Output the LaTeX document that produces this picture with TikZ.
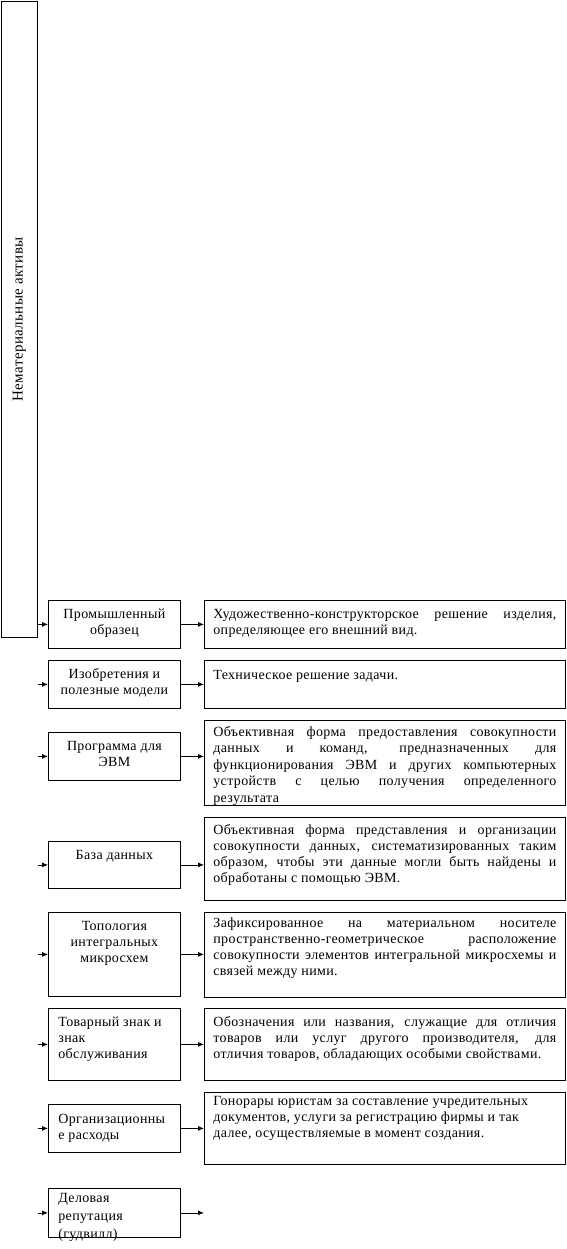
\documentclass[tikz,border=0pt]{standalone}
\usepackage{fontspec}
\setmainfont{Liberation Serif}[LetterSpace=2.5]
\usepackage{graphicx}
\usetikzlibrary{arrows.meta}
\newcommand{\boxcell}[5]{\parbox[c][#2][t]{#1}{#3\rule{0pt}{#4}#5\par}}
\begin{document}
\begin{tikzpicture}[
    lbox/.style={draw, line width=0.8pt, anchor=north west, inner xsep=10pt, inner ysep=0pt},
    rbox/.style={draw, line width=0.8pt, anchor=north west, inner xsep=9pt, inner ysep=0pt},
    arr/.style={line width=0.8pt, -{Latex[length=6pt,width=5pt]}},
    font=\fontsize{14}{16}\selectfont]
    \useasboundingbox (0,0) rectangle (566pt,-1249pt);
    % left column
    \node[draw, line width=0.8pt, anchor=north west, minimum width=36pt, minimum height=636pt, inner sep=0pt] (N) at (1pt,-1pt) {\rotatebox{90}{\fontsize{15}{17}\selectfont Нематериальные активы}};
    \node[lbox] (P1) at (48pt,-600pt) {\boxcell{112pt}{48pt}{\centering}{18pt}{Промышленный\\образец}};
    \node[lbox] (P2) at (48pt,-660pt) {\boxcell{112pt}{48pt}{\centering}{18pt}{Изобретения и\\полезные модели}};
    \node[lbox] (P3) at (48pt,-732pt) {\boxcell{112pt}{48pt}{\centering}{18pt}{Программа для\\ЭВМ}};
    \node[lbox] (P4) at (48pt,-841pt) {\boxcell{112pt}{47pt}{\centering}{18pt}{База данных}};
    \node[lbox] (P5) at (48pt,-912pt) {\boxcell{112pt}{84pt}{\centering}{18pt}{Топология\\интегральных\\микросхем}};
    \node[lbox] (P6) at (48pt,-1008pt) {\boxcell{112pt}{72pt}{\raggedright}{18pt}{Товарный знак и\\знак\\обслуживания}};
    \node[lbox] (P7) at (48pt,-1104pt) {\boxcell{112pt}{48pt}{\raggedright}{19pt}{Организационны\\е расходы}};
    \node[lbox] (P8) at (48pt,-1188pt) {\boxcell{112pt}{49pt}{\raggedright\fontsize{14}{18}\selectfont}{14pt}{Деловая\\репутация\\(гудвилл)}};
    % right column
    \node[rbox] (D1) at (204pt,-600pt) {\boxcell{343pt}{48pt}{}{18pt}{Художественно-конструкторское решение изделия,\linebreak определяющее его внешний вид.}};
    \node[rbox] (D2) at (204pt,-660pt) {\boxcell{343pt}{48pt}{}{19pt}{Техническое решение задачи.}};
    \node[rbox] (D3) at (204pt,-720pt) {\boxcell{343pt}{85pt}{\fontsize{14}{16.5}\selectfont}{16pt}{Объективная форма предоставления совокупности\linebreak данных и команд, предназначенных для\linebreak функционирования ЭВМ и других компьютерных\linebreak устройств с целью получения определенного\linebreak результата}};
    \node[rbox] (D4) at (204pt,-817pt) {\boxcell{343pt}{83pt}{}{17pt}{Объективная форма представления и организации\linebreak совокупности данных, систематизированных таким\linebreak образом, чтобы эти данные могли быть найдены и\linebreak обработаны с помощью ЭВМ.}};
    \node[rbox] (D5) at (204pt,-912pt) {\boxcell{343pt}{85pt}{}{15pt}{Зафиксированное на материальном носителе\linebreak пространственно-геометрическое расположение\linebreak совокупности элементов интегральной микросхемы и\linebreak связей между ними.}};
    \node[rbox] (D6) at (204pt,-1008pt) {\boxcell{343pt}{72pt}{}{18pt}{Обозначения или названия, служащие для отличия\linebreak товаров или услуг другого производителя, для\linebreak отличия товаров, обладающих особыми свойствами.}};
    \node[rbox] (D7) at (204pt,-1092pt) {\boxcell{343pt}{72pt}{\raggedright}{13pt}{Гонорары юристам за составление учредительных\\документов, услуги за регистрацию фирмы и так\\далее, осуществляемые в момент создания.}};
    % arrows
    \foreach \i in {1,...,8}
        \draw[arr] (N.east |- P\i.west) -- (P\i.west);
    \foreach \i in {1,...,7}
        \draw[arr] (P\i.east) -- (D\i.west |- P\i.east);
    \draw[arr] (P8.east) -- (D7.west |- P8.east);
\end{tikzpicture}
\end{document}
